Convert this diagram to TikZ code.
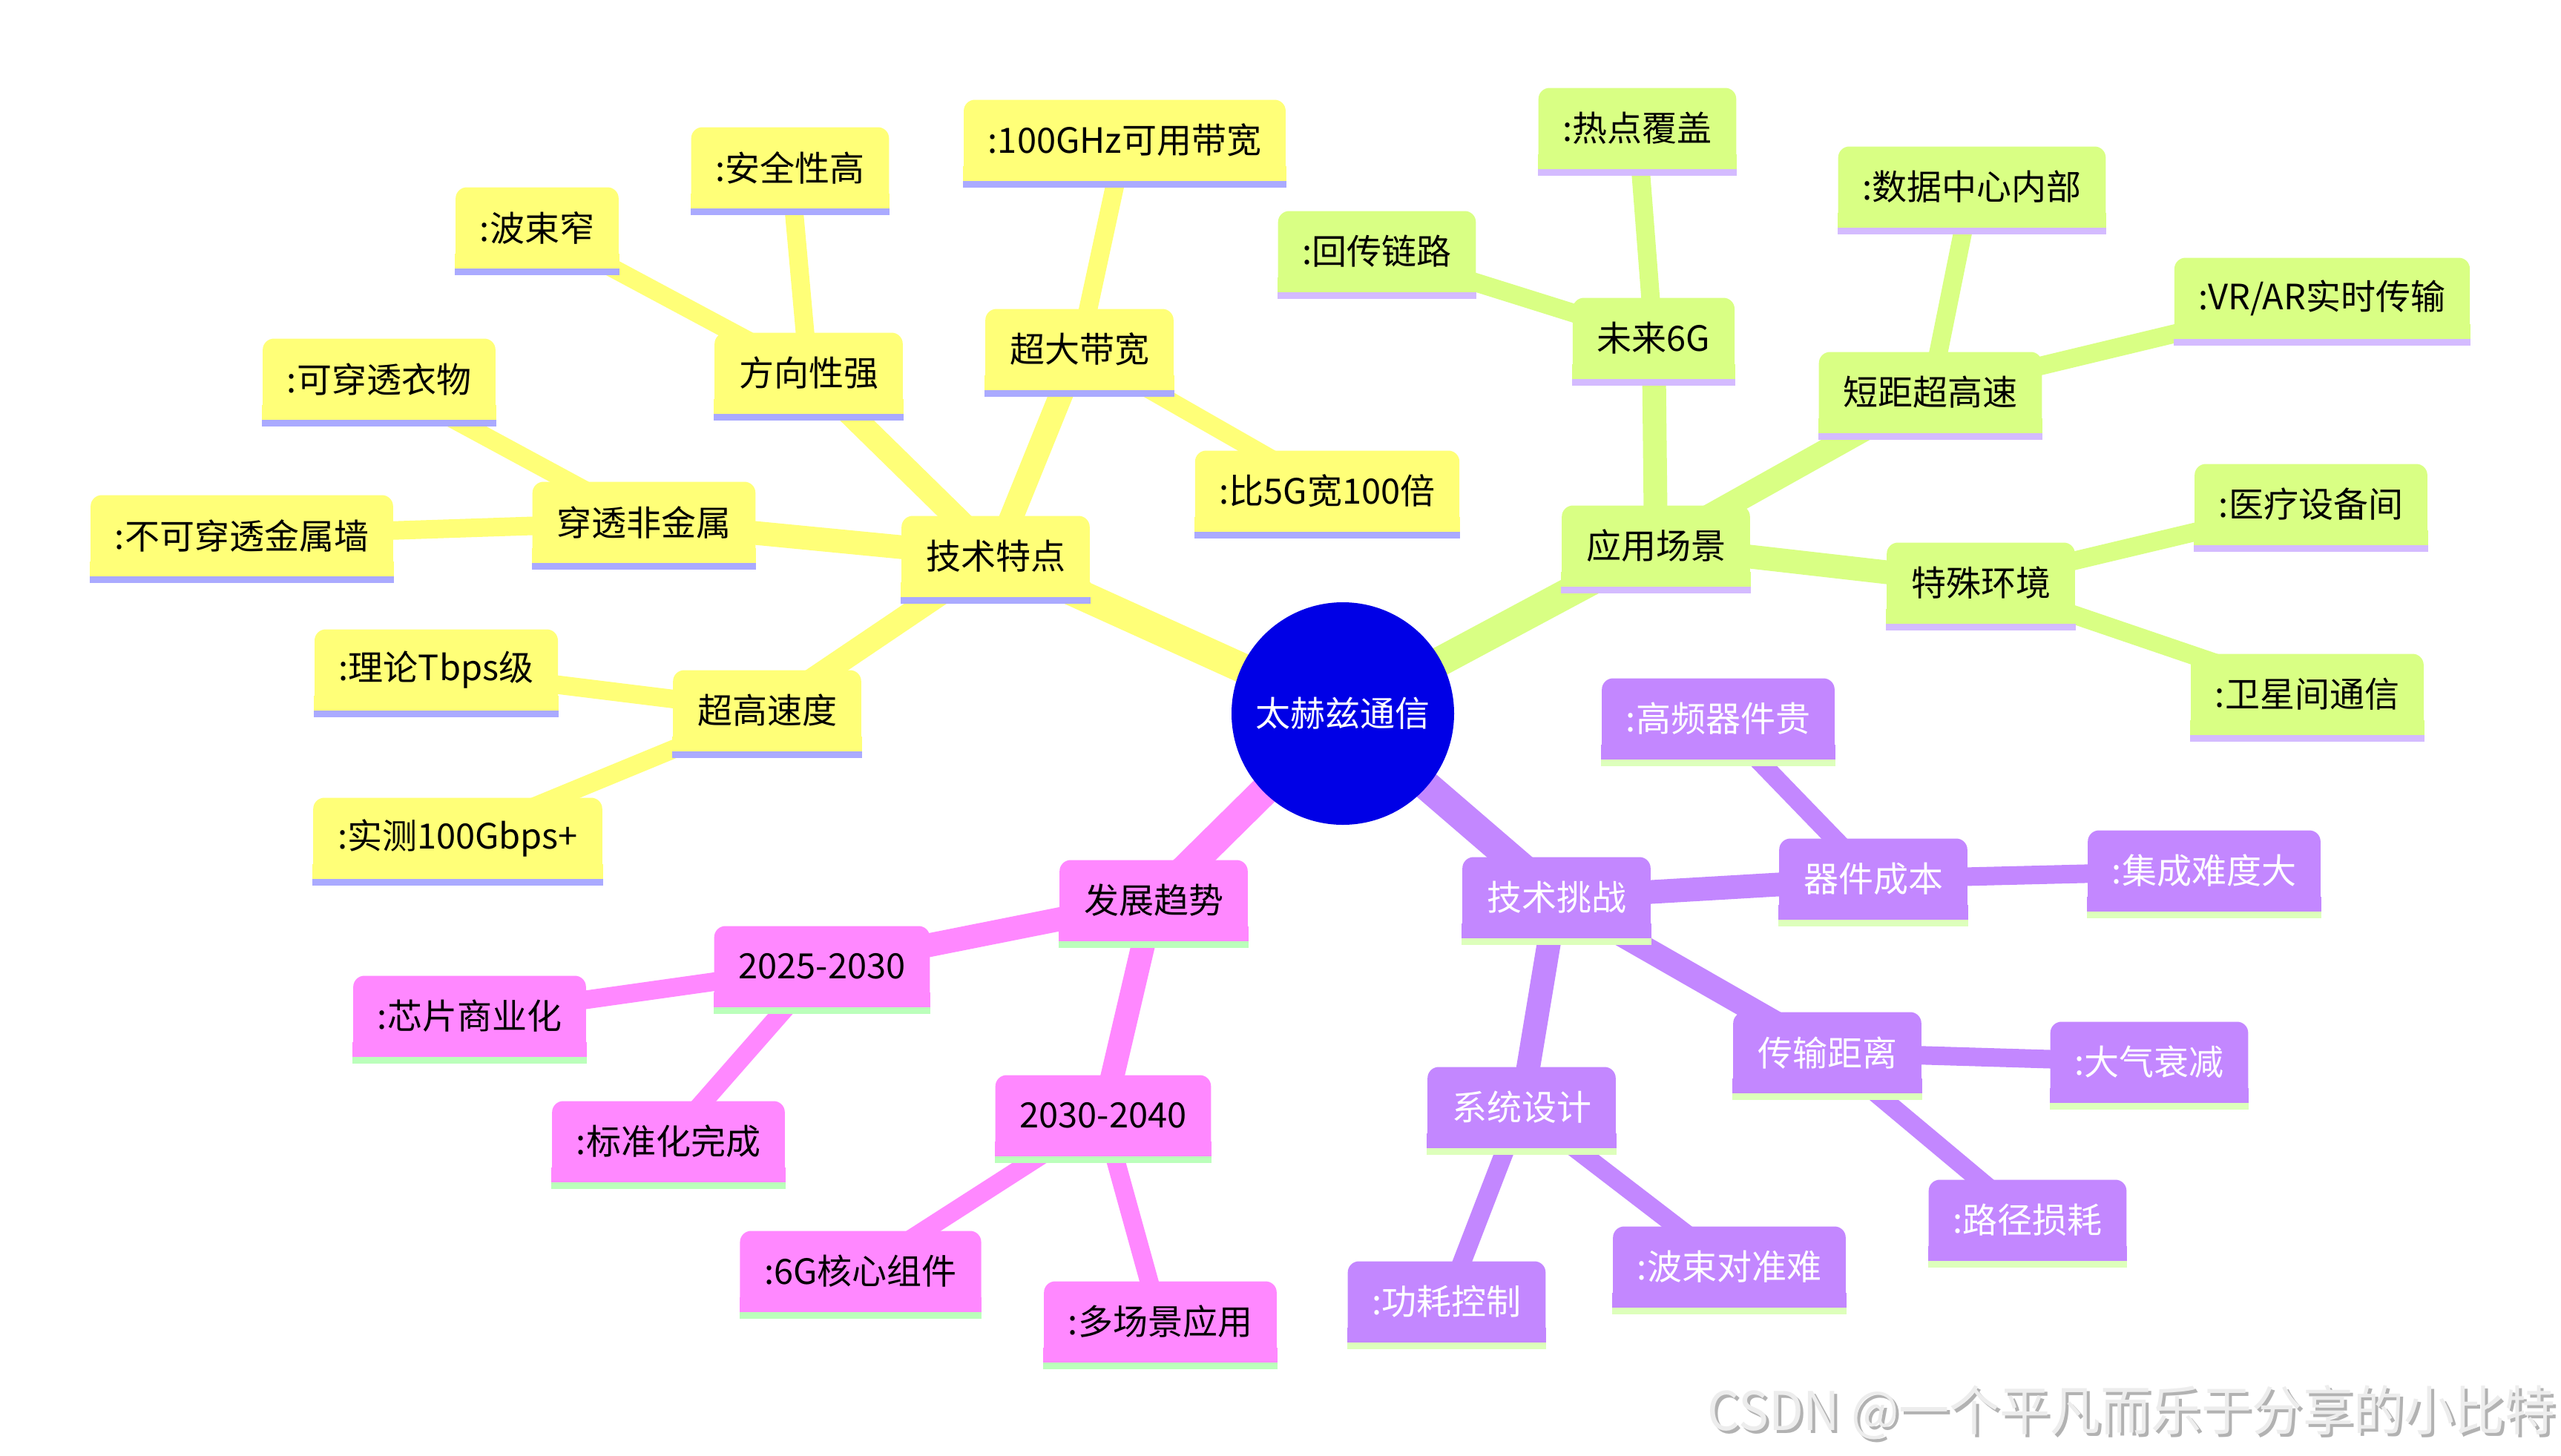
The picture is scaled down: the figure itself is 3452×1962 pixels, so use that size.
\documentclass[tikz,border=0pt]{standalone}
\usepackage{fontspec}
\newfontfamily\cjk{Noto Sans CJK SC}
\usetikzlibrary{backgrounds}
\definecolor{cY}{HTML}{FFFF78}
\definecolor{cYu}{HTML}{AAAAFF}
\definecolor{cG}{HTML}{D9FF84}
\definecolor{cGu}{HTML}{D4BBFF}
\definecolor{cP}{HTML}{C387FF}
\definecolor{cPu}{HTML}{DDFFBB}
\definecolor{cK}{HTML}{FF88FF}
\definecolor{cKu}{HTML}{BBFFBB}
\definecolor{cRoot}{HTML}{0000E6}
\newcommand\mmfont{\cjk\fontsize{11.75pt}{14pt}\selectfont}
\newcommand\wmtext{\scalebox{0.945}[1]{CSDN @一个平凡而乐于分享的小比特}}
\newcommand\mmbase[3]{%
  \fill[#2] (#1.south west) rectangle ([yshift=5pt]#1.south east);
  \fill[#3] (#1.south west) rectangle ([yshift=-2.25pt]#1.south east);}
\tikzset{
  mmnode/.style={rounded corners=3.75pt, minimum height=27.25pt, inner xsep=8.2pt, inner ysep=0pt, font=\mmfont, anchor=center},
  ylw/.style={mmnode, fill=cY, text=black},
  grn/.style={mmnode, fill=cG, text=black},
  prp/.style={mmnode, fill=cP, text=white},
  pnk/.style={mmnode, fill=cK, text=black},
  eA/.style={line width=10pt},
  eB/.style={line width=8pt},
  eC/.style={line width=6.25pt},
  wmstyle/.style={anchor=east, font=\cjk\fontsize{18pt}{20pt}\selectfont, inner sep=0pt},
}
\begin{document}
\begin{tikzpicture}[x=0.25pt,y=-0.25pt]
\useasboundingbox (0,0) rectangle (3452,1962);
% root
\node[circle, fill=cRoot, minimum size=75pt, inner sep=0pt, text=white, font=\mmfont] (root) at (1810,962) {太赫兹通信};
% yellow
\node[ylw] (tf) at (1342,750) {技术特点};
\node[ylw] (cd) at (1455,471) {超大带宽};
\node[ylw] (g100) at (1516,189) {:100GHz可用带宽};
\node[ylw] (b5g) at (1789,662) {:比5G宽100倍};
\node[ylw] (fx) at (1090,503) {方向性强};
\node[ylw] (aq) at (1065,226) {:安全性高};
\node[ylw] (bsz) at (724,307) {:波束窄};
\node[ylw] (ct) at (868,704) {穿透非金属};
\node[ylw] (ky) at (511,511) {:可穿透衣物};
\node[ylw] (bk) at (326,722) {:不可穿透金属墙};
\node[ylw] (cg) at (1034,958) {超高速度};
\node[ylw] (ll) at (588,903) {:理论Tbps级};
\node[ylw] (sc) at (617,1130) {:实测100Gbps+};
% green
\node[grn] (yy) at (2232,736) {应用场景};
\node[grn] (wl) at (2229,456) {未来6G};
\node[grn] (rd) at (2207,173) {:热点覆盖};
\node[grn] (hc) at (1856,339) {:回传链路};
\node[grn] (dj) at (2602,529) {短距超高速};
\node[grn] (sj) at (2658,252) {:数据中心内部};
\node[grn] (vr) at (3130,402) {:VR/AR实时传输};
\node[grn] (ts) at (2670,786) {特殊环境};
\node[grn] (yl) at (3115,680) {:医疗设备间};
\node[grn] (wx) at (3110,936) {:卫星间通信};
% purple
\node[prp] (tz) at (2098,1210) {技术挑战};
\node[prp] (qj) at (2525,1185) {器件成本};
\node[prp] (gp) at (2316,969) {:高频器件贵};
\node[prp] (jc) at (2971,1174) {:集成难度大};
\node[prp] (cs) at (2463,1419) {传输距离};
\node[prp] (dq) at (2897,1432) {:大气衰减};
\node[prp] (lj) at (2733,1645) {:路径损耗};
\node[prp] (xt) at (2051,1493) {系统设计};
\node[prp] (gh) at (1950,1755) {:功耗控制};
\node[prp] (bs) at (2331,1708) {:波束对准难};
% pink
\node[pnk] (fz) at (1555,1214) {发展趋势};
\node[pnk] (y1) at (1108,1303) {2025-2030};
\node[pnk] (xp) at (633,1370) {:芯片商业化};
\node[pnk] (bz) at (901,1539) {:标准化完成};
\node[pnk] (y2) at (1487,1504) {2030-2040};
\node[pnk] (hx) at (1160,1714) {:6G核心组件};
\node[pnk] (dc) at (1564,1782) {:多场景应用};
% bottoms and underlines
\foreach \n in {tf,cd,g100,b5g,fx,aq,bsz,ct,ky,bk,cg,ll,sc} {\mmbase{\n}{cY}{cYu}}
\foreach \n in {yy,wl,rd,hc,dj,sj,vr,ts,yl,wx} {\mmbase{\n}{cG}{cGu}}
\foreach \n in {tz,qj,gp,jc,cs,dq,lj,xt,gh,bs} {\mmbase{\n}{cP}{cPu}}
\foreach \n in {fz,y1,xp,bz,y2,hx,dc} {\mmbase{\n}{cK}{cKu}}
\begin{pgfonlayer}{background}
% yellow edges
\draw[eA,cY] (root.center) -- (tf.center);
\draw[eB,cY] (tf.center) -- (cd.center);
\draw[eB,cY] (tf.center) -- (fx.center);
\draw[eB,cY] (tf.center) -- (ct.center);
\draw[eB,cY] (tf.center) -- (cg.center);
\draw[eC,cY] (cd.center) -- (g100.center);
\draw[eC,cY] (cd.center) -- (b5g.center);
\draw[eC,cY] (fx.center) -- (aq.center);
\draw[eC,cY] (fx.center) -- (bsz.center);
\draw[eC,cY] (ct.center) -- (ky.center);
\draw[eC,cY] (ct.center) -- (bk.center);
\draw[eC,cY] (cg.center) -- (ll.center);
\draw[eC,cY] (cg.center) -- (sc.center);
% green edges
\draw[eA,cG] (root.center) -- (yy.center);
\draw[eB,cG] (yy.center) -- (wl.center);
\draw[eB,cG] (yy.center) -- (dj.center);
\draw[eB,cG] (yy.center) -- (ts.center);
\draw[eC,cG] (wl.center) -- (rd.center);
\draw[eC,cG] (wl.center) -- (hc.center);
\draw[eC,cG] (dj.center) -- (sj.center);
\draw[eC,cG] (dj.center) -- (vr.center);
\draw[eC,cG] (ts.center) -- (yl.center);
\draw[eC,cG] (ts.center) -- (wx.center);
% purple edges
\draw[eA,cP] (root.center) -- (tz.center);
\draw[eB,cP] (tz.center) -- (qj.center);
\draw[eB,cP] (tz.center) -- (cs.center);
\draw[eB,cP] (tz.center) -- (xt.center);
\draw[eC,cP] (qj.center) -- (gp.center);
\draw[eC,cP] (qj.center) -- (jc.center);
\draw[eC,cP] (cs.center) -- (dq.center);
\draw[eC,cP] (cs.center) -- (lj.center);
\draw[eC,cP] (xt.center) -- (gh.center);
\draw[eC,cP] (xt.center) -- (bs.center);
% pink edges
\draw[eA,cK] (root.center) -- (fz.center);
\draw[eB,cK] (fz.center) -- (y1.center);
\draw[eB,cK] (fz.center) -- (y2.center);
\draw[eC,cK] (y1.center) -- (xp.center);
\draw[eC,cK] (y1.center) -- (bz.center);
\draw[eC,cK] (y2.center) -- (hx.center);
\draw[eC,cK] (y2.center) -- (dc.center);
\end{pgfonlayer}
% watermark
\node[wmstyle, text=black!30] (wm0) at (3449,1908) {\wmtext};
\node[wmstyle, text=black!7] (wm) at (3445,1904) {\wmtext};
\end{tikzpicture}
\end{document}
